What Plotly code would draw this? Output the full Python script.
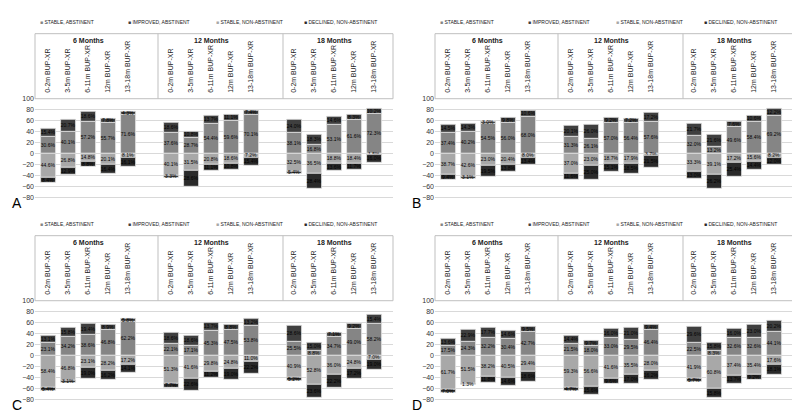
import plotly.graph_objects as go

# ====== DATA ======
groups = ["6 Months", "12 Months", "18 Months"]
cohorts = ["0-2m BUP-XR", "3-5m BUP-XR", "6-11m BUP-XR", "12m BUP-XR", "13-18m BUP-XR"]
series_names = ["STABLE, ABSTINENT", "IMPROVED, ABSTINENT", "STABLE, NON-ABSTINENT", "DECLINED, NON-ABSTINENT"]
panel_letters = ["A", "B", "C", "D"]

# 15 values per series: 6 months (5 cohorts), 12 months, 18 months
a_stable_abst = [30.6, 40.1, 57.2, 55.7, 71.6, 37.6, 28.7, 54.4, 59.6, 70.1, 38.1, 16.8, 53.1, 61.6, 72.3]
a_improved = [15.4, 20.7, 18.6, 7.8, 4.3, 18.6, 10.8, 13.7, 11.1, 7.4, 24.0, 18.3, 14.6, 8.3, 10.2]
a_stable_non = [44.6, 26.8, 14.8, 20.1, 8.1, 40.1, 31.5, 20.8, 18.6, 7.2, 32.5, 36.5, 18.8, 18.4, 1.5]
a_declined = [8.4, 12.9, 8.8, 16.4, 16.1, 3.3, 28.6, 11.1, 10.8, 15.4, 5.4, 28.4, 13.6, 11.7, 16.0]

b_stable_abst = [37.4, 40.2, 54.5, 56.0, 68.0, 31.3, 26.1, 57.0, 56.4, 57.6, 32.0, 13.2, 49.6, 58.4, 69.2]
b_improved = [14.5, 14.3, 3.0, 9.8, 10.6, 20.1, 26.0, 9.2, 7.2, 17.2, 21.7, 21.6, 7.6, 10.6, 12.2]
b_stable_non = [38.7, 42.6, 23.0, 20.4, 8.0, 37.0, 23.0, 18.7, 17.9, 3.7, 33.3, 39.1, 17.2, 15.6, 8.2]
b_declined = [9.4, 3.1, 19.5, 13.8, 13.4, 11.6, 25.0, 15.1, 18.5, 21.5, 13.0, 26.2, 25.4, 14.4, 12.0]

c_stable_abst = [23.1, 34.2, 38.6, 46.8, 62.2, 22.1, 17.1, 45.3, 47.5, 53.8, 25.5, 8.8, 34.7, 49.0, 58.2]
c_improved = [13.1, 15.8, 19.4, 8.9, 5.8, 18.6, 18.6, 13.7, 8.8, 13.2, 28.6, 15.0, 7.1, 9.2, 15.4]
c_stable_non = [58.4, 46.8, 23.1, 28.2, 17.2, 51.3, 41.6, 29.8, 24.8, 11.0, 40.9, 52.8, 36.0, 24.8, 7.0]
c_declined = [5.4, 3.1, 19.0, 16.2, 14.1, 7.7, 22.6, 11.2, 19.0, 22.2, 5.2, 23.6, 22.2, 17.2, 19.0]

d_stable_abst = [17.5, 24.3, 32.2, 30.4, 42.7, 21.5, 18.0, 33.0, 29.5, 46.4, 22.5, 8.3, 32.6, 32.6, 44.1]
d_improved = [13.6, 22.9, 17.7, 14.6, 9.5, 14.4, 9.7, 16.0, 21.0, 9.4, 29.6, 15.8, 16.0, 23.0, 20.2]
d_stable_non = [61.7, 51.5, 38.2, 40.5, 29.4, 59.3, 56.6, 41.6, 35.5, 28.0, 41.9, 60.8, 37.4, 35.4, 17.6]
d_declined = [7.0, 1.3, 11.8, 14.6, 18.6, 4.7, 15.6, 9.6, 17.0, 16.2, 5.7, 15.8, 13.7, 9.2, 18.1]

panels = [
    [a_stable_abst, a_improved, a_stable_non, a_declined],
    [b_stable_abst, b_improved, b_stable_non, b_declined],
    [c_stable_abst, c_improved, c_stable_non, c_declined],
    [d_stable_abst, d_improved, d_stable_non, d_declined],
]

# ====== STYLE ======
W, H = 800, 410
colors = ["#858585", "#3f3f3f", "#a8a8a8", "#2a2a2a"]
signs = [1, 1, -1, -1]
FONT = "Liberation Sans"
YMIN, YMAX = -82, 100

# x position of each bar: 5 cohorts per group, gap between groups
xpos = [g * 6.15 + i for g in range(3) for i in range(5)]
cat_labels = cohorts * 3

def px(x):
    return x / W

def py(y):
    return 1 - y / H

fig = go.Figure()
annotations = []
shapes = []
layout_axes = {}

for k, series in enumerate(panels):
    ox = 400 * (k % 2)
    oy = 205 * (k // 2)
    ax = "" if k == 0 else str(k + 1)
    left, right = ox + 27, ox + 385
    top100 = oy + 88
    bottom = oy + 88 + (100 - YMIN) * (100 / 180)
    # x data: 0 at ox+40 px, 20 px per unit
    xr = [(left - (ox + 40)) / 20, (right - (ox + 40)) / 20]

    layout_axes["xaxis" + ax] = dict(domain=[px(left), px(right)], range=xr, anchor="y" + ax,
                                     showticklabels=False, showgrid=False, zeroline=False)
    layout_axes["yaxis" + ax] = dict(domain=[py(bottom), py(top100)], range=[YMIN, YMAX],
                                     anchor="x" + ax, tickvals=list(range(-80, 101, 20)),
                                     tickfont=dict(size=7, color="#333"), gridcolor="#d9d9d9",
                                     gridwidth=1, zeroline=False, ticklen=0, ticks="")

    for s, vals in enumerate(series):
        fig.add_trace(go.Bar(
            x=xpos, y=[signs[s] * v for v in vals],
            xaxis="x" + ax, yaxis="y" + ax,
            width=0.75, marker=dict(color=colors[s], line=dict(color="#e6e6e6", width=0.8)),
            text=[f"{v:.1f}%" for v in vals], textposition="inside",
            insidetextanchor="middle", textangle=0, constraintext="none",
            insidetextfont=dict(size=5, color="black", family=FONT),
            name=series_names[s], showlegend=False,
            hovertemplate="%{text}<extra>" + series_names[s] + "</extra>",
        ))

    # legend row
    for s, name in enumerate(series_names):
        annotations.append(dict(
            xref="paper", yref="paper", x=px(ox + 30 + s * 88), y=py(oy + 10),
            xanchor="left", yanchor="middle", showarrow=False,
            text=f"<span style='color:{colors[s]}'>■</span> {name}",
            font=dict(size=5, family=FONT, color="#222"),
        ))

    # header box
    shapes.append(dict(type="line", xref="paper", yref="paper", x0=px(left), x1=px(right),
                       y0=py(oy + 22), y1=py(oy + 22), line=dict(color="#bfbfbf", width=1)))
    shapes.append(dict(type="line", xref="paper", yref="paper", x0=px(left), x1=px(right),
                       y0=py(top100), y1=py(top100), line=dict(color="#bfbfbf", width=1)))
    for xd in [left, ox + 150, ox + 275, right]:
        shapes.append(dict(type="line", xref="paper", yref="paper", x0=px(xd), x1=px(xd),
                           y0=py(oy + 22), y1=py(top100), line=dict(color="#bfbfbf", width=1)))

    for g, gname in enumerate(groups):
        annotations.append(dict(
            xref="x" + ax, yref="paper", x=xpos[g * 5 + 2], y=py(oy + 29),
            showarrow=False, text=f"<b>{gname}</b>", xanchor="center", yanchor="middle",
            font=dict(size=7, family=FONT, color="#222"),
        ))
    for xv, lab in zip(xpos, cat_labels):
        annotations.append(dict(
            xref="x" + ax, yref="paper", x=xv, y=py(oy + 84), textangle=-90,
            showarrow=False, text=lab, xanchor="center", yanchor="bottom",
            font=dict(size=7, family=FONT, color="#222"),
        ))

    annotations.append(dict(
        xref="paper", yref="paper", x=px(ox + 2), y=py(oy + 204), showarrow=False,
        text=panel_letters[k], xanchor="left", yanchor="bottom",
        font=dict(size=14, family=FONT, color="black"),
    ))

fig.update_layout(
    width=W, height=H, margin=dict(l=0, r=0, t=0, b=0),
    paper_bgcolor="white", plot_bgcolor="white",
    barmode="relative", bargap=0,
    uniformtext=dict(minsize=5, mode="show"),
    font=dict(family=FONT),
    annotations=annotations, shapes=shapes,
    **layout_axes,
)

fig.write_html("out.html")
